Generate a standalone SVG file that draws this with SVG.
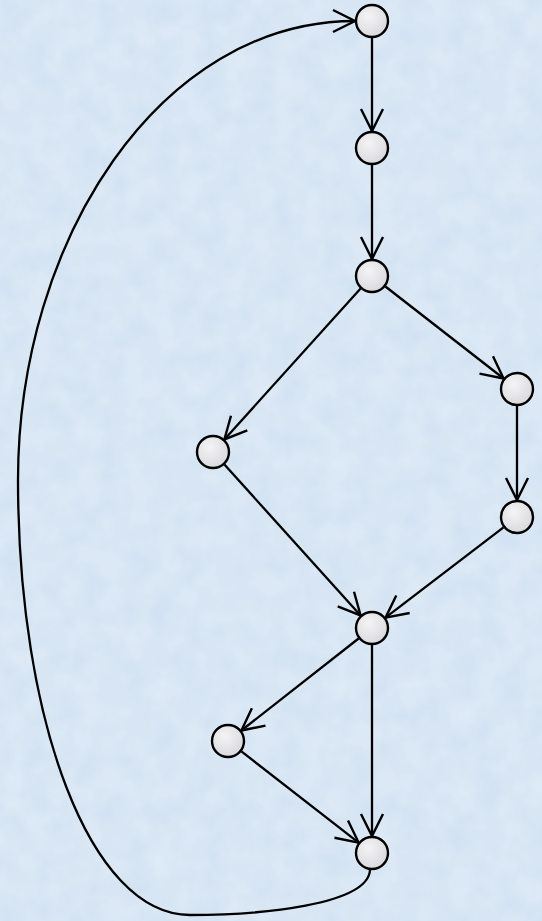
<svg xmlns="http://www.w3.org/2000/svg" width="542" height="921" viewBox="0 0 542 921">
<defs>
<radialGradient id="ng" cx="0.4" cy="0.35" r="0.7">
<stop offset="0" stop-color="#f4f4f6"/>
<stop offset="1" stop-color="#d8d8dc"/>
</radialGradient>
<filter id="tex" x="0" y="0" width="100%" height="100%">
<feTurbulence type="fractalNoise" baseFrequency="0.04" numOctaves="3" seed="4"/>
<feColorMatrix type="matrix" values="0 0 0 0 1  0 0 0 0 1  0 0 0 0 1  0 0 0 0.35 0"/>
</filter>
<marker id="arr" markerUnits="userSpaceOnUse" markerWidth="30" markerHeight="30" viewBox="-25 -15 30 30" refX="0" refY="0" orient="auto">
<path d="M -22 -11 L 0 0 L -22 11" fill="none" stroke="#000" stroke-width="2.4" stroke-linejoin="miter"/>
</marker>
<style>
.n{fill:url(#ng);stroke:#000;stroke-width:2.4}
.e{fill:none;stroke:#000;stroke-width:2.3;marker-end:url(#arr)}
</style>
</defs>
<rect width="542" height="921" fill="#d0e1f2"/>
<rect width="542" height="921" filter="url(#tex)"/>
<g id="connectors">
<path class="e" d="M372 38 L372 131"/>
<path class="e" d="M372 165 L372 259"/>
<path class="e" d="M385.4 286.5 L503.6 378.5"/>
<path class="e" d="M360.6 288.6 L224.4 439.4"/>
<path class="e" d="M517 406 L517 500"/>
<path class="e" d="M224.4 464.6 L360.6 615.4"/>
<path class="e" d="M503.5 527.3 L385.5 617.7"/>
<path class="e" d="M358.6 638.5 L241.4 730.5"/>
<path class="e" d="M372 645 L372 836"/>
<path class="e" d="M241.4 751.4 L358.6 842.6"/>
<path class="e" d="M370 870 C 368 905, 260 915, 190 915 C 90 915, 18 720, 18 480 C 18 240, 160 21, 355 21"/>
</g>
<g id="n1"><circle class="n" cx="372" cy="21" r="16"/></g>
<g id="n2"><circle class="n" cx="372" cy="148" r="16"/></g>
<g id="n3"><circle class="n" cx="372" cy="276" r="16"/></g>
<g id="n4"><circle class="n" cx="517" cy="389" r="16"/></g>
<g id="n5"><circle class="n" cx="213" cy="452" r="16"/></g>
<g id="n6"><circle class="n" cx="517" cy="517" r="16"/></g>
<g id="n7"><circle class="n" cx="372" cy="628" r="16"/></g>
<g id="n8"><circle class="n" cx="228" cy="741" r="16"/></g>
<g id="n9"><circle class="n" cx="372" cy="853" r="16"/></g>
</svg>
